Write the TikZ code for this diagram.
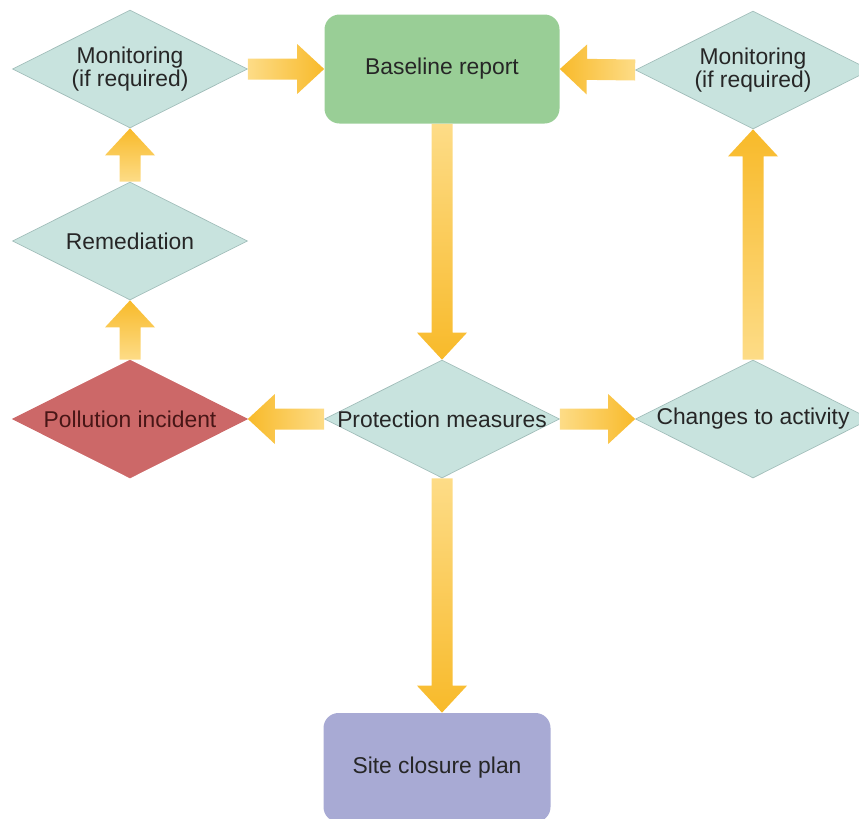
\documentclass[tikz,border=0pt]{standalone}
\usepackage{fontspec}
\setmainfont{Liberation Sans}
\usetikzlibrary{shapes.geometric,calc}

\definecolor{diamondfill}{RGB}{200,227,222}
\definecolor{diamondline}{RGB}{162,190,186}
\definecolor{basegreen}{RGB}{153,206,150}
\definecolor{incidentred}{RGB}{204,104,104}
\definecolor{closurepurple}{RGB}{168,170,212}
\definecolor{arrowlight}{RGB}{253,220,135}
\definecolor{arrowdark}{RGB}{248,186,42}
\definecolor{labelgrey}{RGB}{38,38,38}

% text that may run over the diamond's edges
\newcommand{\slimtext}[1]{\makebox[0pt]{#1}}

% block arrow from one anchor to another
\newcommand{\flowarrow}[3]{%
  \path[shade,#3] let \p1=(#1), \p2=(#2),
      \n1={atan2(\y2-\y1,\x2-\x1)}, \n2={veclen(\x2-\x1,\y2-\y1)} in
    [shift={(\p1)}, rotate=\n1]
    (0cm,-0.21cm) -- ({\n2*1pt-0.54cm},-0.21cm) -- ({\n2*1pt-0.54cm},-0.5cm)
    -- ({\n2*1pt},0cm) -- ({\n2*1pt-0.54cm},0.5cm) -- ({\n2*1pt-0.54cm},0.21cm)
    -- (0cm,0.21cm) -- cycle;
}

\begin{document}
\begin{tikzpicture}[
    every node/.style={text=labelgrey, font=\fontsize{13}{13}\selectfont},
    decision/.style={diamond, draw=diamondline, fill=diamondfill, minimum width=4.7cm,
      minimum height=2.36cm, inner sep=0pt, align=center},
    report/.style={rectangle, rounded corners=0.3cm, minimum width=4.7cm,
      minimum height=2.18cm, align=center}]
    \useasboundingbox (0,0) rectangle (17.18,-16.36);

    % --- Top row ---
    \node[decision] (monleft) at (2.6,-1.38) {\slimtext{Monitoring}\\\slimtext{(if required)}};
    \node[report, fill=basegreen] (baseline) at (8.84,-1.38) {Baseline report};
    \node[decision] (monright) at (15.06,-1.4) {\slimtext{Monitoring}\\\slimtext{(if required)}};
    % ---

    % --- Left column and middle row ---
    \node[decision] (remedy) at (2.6,-4.82) {\slimtext{Remediation}};
    \node[decision, draw=incidentred, fill=incidentred, text={rgb,255:red,72;green,22;blue,22}] (incident) at (2.6,-8.38) {\slimtext{Pollution incident}};
    \node[decision] (protect) at (8.84,-8.38) {\slimtext{Protection measures}};
    \node[decision] (changes) at (15.06,-8.38) {\slimtext{Changes to activity}};
    % ---

    % --- Bottom ---
    \node[report, fill=closurepurple, minimum width=4.54cm] (closure) at (8.74,-15.35) {Site closure plan};
    % ---

    % --- Draw block arrows ---
    \flowarrow{monleft.east}{baseline.west}{left color=arrowlight, right color=arrowdark}
    \flowarrow{monright.west}{baseline.east}{left color=arrowdark, right color=arrowlight}
    \flowarrow{baseline.south}{protect.north}{top color=arrowlight, bottom color=arrowdark}
    \flowarrow{protect.west}{incident.east}{left color=arrowdark, right color=arrowlight}
    \flowarrow{protect.east}{changes.west}{left color=arrowlight, right color=arrowdark}
    \flowarrow{protect.south}{protect.south |- closure.north}{top color=arrowlight, bottom color=arrowdark}
    \flowarrow{incident.north}{remedy.south}{top color=arrowdark, bottom color=arrowlight}
    \flowarrow{remedy.north}{monleft.south}{top color=arrowdark, bottom color=arrowlight}
    \flowarrow{changes.north}{monright.south}{top color=arrowdark, bottom color=arrowlight}
    % ---
\end{tikzpicture}
\end{document}
